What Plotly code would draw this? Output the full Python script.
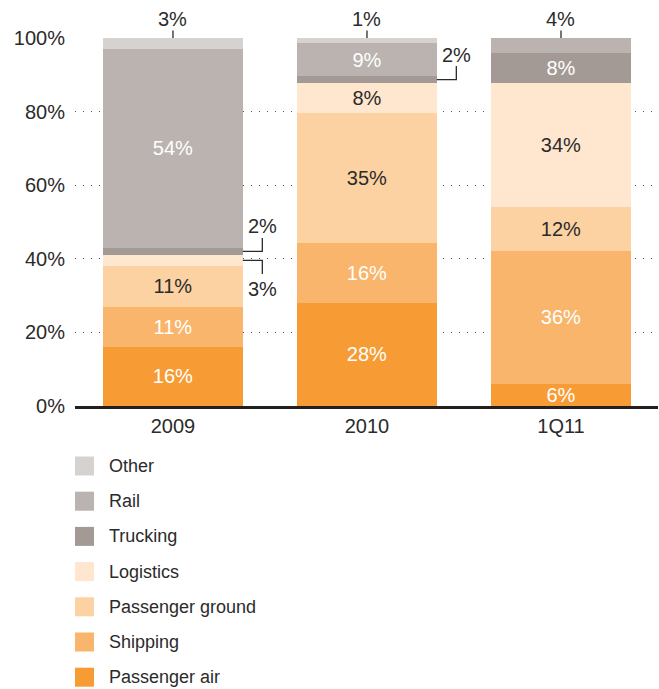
import plotly.graph_objects as go

# data, bottom of the stack first
periods = ["2009", "2010", "1Q11"]
passenger_air = [16.1, 28.1, 6.0]
shipping = [10.9, 16.2, 36.1]
passenger_ground = [11.1, 35.4, 12.0]
logistics = [2.9, 8.0, 33.8]
trucking = [2.0, 2.0, 7.9]
rail = [54.0, 8.9, 4.2]
other = [3.0, 1.4, 0.0]
y_ticks = [0, 20, 40, 60, 80, 100]

series = [
    ("Passenger air", passenger_air, "#f79c34", "white"),
    ("Shipping", shipping, "#f9b56c", "white"),
    ("Passenger ground", passenger_ground, "#fdd2a2", "#2b2b2b"),
    ("Logistics", logistics, "#fee6cf", "#2b2b2b"),
    ("Trucking", trucking, "#a39a95", "white"),
    ("Rail", rail, "#bab3af", "white"),
    ("Other", other, "#d6d2cf", "white"),
]

# segments too thin for an inside label: (period, series, placement)
small_labels = [
    ("2009", "Other", "top"),
    ("2009", "Trucking", "up"),
    ("2009", "Logistics", "down"),
    ("2010", "Other", "top"),
    ("2010", "Trucking", "up"),
    ("1Q11", "Rail", "top"),
]

# geometry (pixels)
W, H = 659, 689
M_L, M_R, M_T, M_B = 75, 1, 38, 283
PLOT_W = W - M_L - M_R
PLOT_H = H - M_T - M_B
PLOT_BOTTOM = M_T + PLOT_H
X_RANGE = [-0.505, 2.5]
BAR_W = 0.72
TXT = "#2b2b2b"
FONT = "Liberation Sans, Arial, sans-serif"


def paper_x(x, dx=0):
    return (x - X_RANGE[0]) / (X_RANGE[1] - X_RANGE[0]) + dx / PLOT_W


def paper_y(y, dy=0):
    return y / 100 + dy / PLOT_H


fig = go.Figure()

for name, vals, color, tcolor in series:
    fig.add_trace(
        go.Bar(
            name=name,
            x=list(range(len(periods))),
            y=vals,
            width=BAR_W,
            marker=dict(color=color, line=dict(width=0)),
            text=[f"{v:.0f}%" if v >= 5 else "" for v in vals],
            textposition="inside",
            insidetextanchor="middle",
            textangle=0,
            textfont=dict(color=tcolor, size=20, family=FONT),
            hoverinfo="skip",
            showlegend=False,
        )
    )

shapes = []
annotations = []
names = [s[0] for s in series]
for period, sname, place in small_labels:
    i = periods.index(period)
    k = names.index(sname)
    below = sum(series[j][1][i] for j in range(k))
    val = series[k][1][i]
    label = f"{val:.0f}%"
    line = dict(color=TXT, width=1.3)
    if place == "top":
        shapes.append(dict(type="line", xref="paper", yref="paper",
                           x0=paper_x(i), x1=paper_x(i),
                           y0=paper_y(100), y1=paper_y(100, 7.5), line=line))
        annotations.append(dict(xref="paper", yref="paper", x=paper_x(i),
                                y=paper_y(100, 19), text=label, showarrow=False,
                                xanchor="center", yanchor="middle",
                                font=dict(size=20, color=TXT, family=FONT)))
    else:
        mid = below + val / 2
        sign = 1 if place == "up" else -1
        xe = i + BAR_W / 2
        x0p, x1p = paper_x(xe), paper_x(xe, 19.5)
        y0p, y1p = paper_y(mid), paper_y(mid, sign * 13.5)
        shapes.append(dict(type="path", xref="paper", yref="paper",
                           path=f"M{x0p},{y0p} L{x1p},{y0p} L{x1p},{y1p}",
                           line=line))
        off = 25 if place == "up" else -29
        annotations.append(dict(xref="paper", yref="paper", x=x1p,
                                y=paper_y(mid, off), text=label,
                                showarrow=False, xanchor="center", yanchor="middle",
                                font=dict(size=20, color=TXT, family=FONT)))

# legend, top to bottom
for n, (name, vals, color, _) in enumerate(reversed(series)):
    cy = 466 + n * 35.2
    shapes.append(dict(type="rect", xref="paper", yref="paper",
                       x0=0, x1=19 / PLOT_W,
                       y0=(PLOT_BOTTOM - cy - 9.5) / PLOT_H,
                       y1=(PLOT_BOTTOM - cy + 9.5) / PLOT_H,
                       fillcolor=color, line=dict(width=0)))
    annotations.append(dict(xref="paper", yref="paper", x=32 / PLOT_W,
                            y=(PLOT_BOTTOM - cy) / PLOT_H, text=name,
                            showarrow=False, xanchor="left", yanchor="middle",
                            font=dict(size=18, color=TXT, family=FONT)))

fig.update_layout(
    barmode="stack",
    width=W,
    height=H,
    margin=dict(l=M_L, r=M_R, t=M_T, b=M_B),
    plot_bgcolor="white",
    paper_bgcolor="white",
    font=dict(family=FONT, size=20, color=TXT),
    uniformtext=dict(minsize=20, mode="show"),
    showlegend=False,
    shapes=shapes,
    annotations=annotations,
    xaxis=dict(
        range=X_RANGE,
        tickmode="array",
        tickvals=list(range(len(periods))),
        ticktext=periods,
        showgrid=False,
        zeroline=False,
        showline=True,
        linecolor="#231f20",
        linewidth=3,
        ticks="",
        ticklabelstandoff=0,
        automargin=False,
        fixedrange=True,
    ),
    yaxis=dict(
        range=[0, 100],
        tickmode="array",
        tickvals=y_ticks,
        ticktext=[f"{t}%" for t in y_ticks],
        showgrid=True,
        gridcolor="#555555",
        gridwidth=1,
        griddash="1px,7px",
        zeroline=False,
        showline=False,
        ticks="",
        ticklabelstandoff=9,
        automargin=False,
        fixedrange=True,
    ),
)

fig.write_html(
    "out.html",
    config={"displayModeBar": False},
    post_script="document.body.style.margin='0';document.body.style.overflow='hidden';",
)
